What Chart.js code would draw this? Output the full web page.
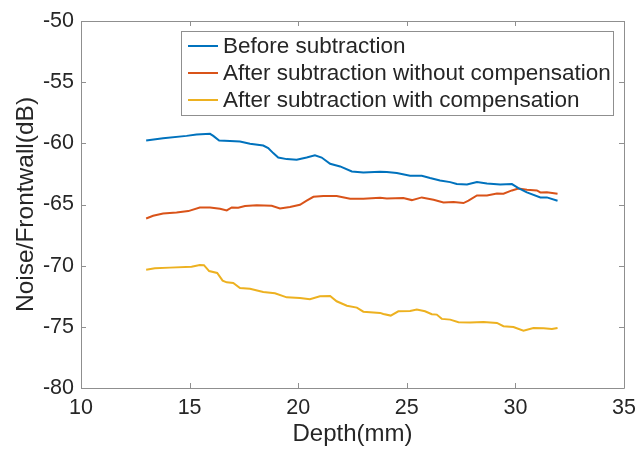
<!DOCTYPE html>
<html>
<head>
<meta charset="utf-8">
<script src="https://cdn.jsdelivr.net/npm/chart.js@4.4.1/dist/chart.umd.min.js"></script>
<style>
  html, body { margin: 0; padding: 0; background: #fff; }
</style>
</head>
<body>
<canvas id="noiseChart" width="638" height="450"></canvas>
<script>
// Series (depth in mm, level in dB)
const seriesLabels = ['Before subtraction', 'After subtraction without compensation', 'After subtraction with compensation'];
const seriesColors = ['#0072BD', '#D95319', '#EDB120'];

const beforeDepth = [13.0, 13.78, 14.86, 15.32, 15.94, 16.09, 16.36, 16.86, 17.32, 17.78, 18.39, 18.62, 18.85, 19.08, 19.47, 19.93, 20.39, 20.77, 21.08, 21.47, 21.93, 22.47, 23.0, 23.77, 24.08, 24.54, 25.15, 25.69, 26.07, 26.53, 27.0, 27.3, 27.77, 28.23, 28.69, 29.3, 29.84, 30.14, 30.53, 31.15, 31.45, 31.94];
const beforeLevel = [-59.77, -59.58, -59.39, -59.28, -59.22, -59.39, -59.77, -59.80, -59.85, -60.04, -60.18, -60.39, -60.8, -61.16, -61.29, -61.35, -61.16, -60.97, -61.16, -61.67, -61.89, -62.3, -62.38, -62.33, -62.35, -62.43, -62.65, -62.65, -62.84, -63.04, -63.17, -63.33, -63.36, -63.17, -63.28, -63.36, -63.33, -63.66, -64.01, -64.42, -64.42, -64.69];

const noCompDepth = [13.0, 13.32, 13.78, 14.4, 14.94, 15.47, 15.94, 16.4, 16.71, 16.94, 17.24, 17.55, 18.09, 18.78, 19.16, 19.62, 20.08, 20.39, 20.7, 21.16, 21.77, 22.39, 23.0, 23.77, 24.08, 24.84, 25.23, 25.69, 26.23, 26.69, 27.15, 27.61, 27.84, 28.23, 28.69, 29.15, 29.45, 29.84, 30.14, 30.53, 30.99, 31.15, 31.45, 31.94];
const noCompLevel = [-66.14, -65.92, -65.73, -65.65, -65.54, -65.24, -65.24, -65.35, -65.48, -65.24, -65.27, -65.13, -65.07, -65.1, -65.32, -65.21, -65.02, -64.69, -64.37, -64.31, -64.31, -64.53, -64.53, -64.45, -64.5, -64.47, -64.64, -64.42, -64.61, -64.83, -64.8, -64.88, -64.69, -64.26, -64.26, -64.1, -64.12, -63.85, -63.69, -63.8, -63.85, -64.01, -64.0, -64.12];

const compDepth = [13.0, 13.4, 14.09, 15.09, 15.47, 15.66, 15.9, 16.27, 16.52, 16.71, 17.01, 17.32, 17.78, 18.39, 18.93, 19.47, 20.08, 20.54, 21.0, 21.47, 21.77, 22.24, 22.7, 23.0, 23.77, 23.92, 24.26, 24.61, 25.15, 25.46, 25.84, 26.15, 26.38, 26.61, 27.0, 27.38, 27.92, 28.53, 29.15, 29.45, 29.91, 30.37, 30.83, 31.3, 31.68, 31.94];
const compLevel = [-70.33, -70.22, -70.16, -70.08, -69.94, -69.96, -70.44, -70.6, -71.22, -71.36, -71.41, -71.82, -71.88, -72.15, -72.26, -72.59, -72.64, -72.75, -72.5, -72.48, -72.91, -73.27, -73.43, -73.76, -73.86, -73.95, -74.08, -73.73, -73.7, -73.59, -73.73, -73.97, -74.0, -74.35, -74.41, -74.62, -74.65, -74.6, -74.68, -74.95, -75.01, -75.31, -75.09, -75.12, -75.17, -75.09];

const xTicks = [10, 15, 20, 25, 30, 35];
const yTicks = [-80, -75, -70, -65, -60, -55, -50];

const FONT = '"Liberation Sans", Arial, Helvetica, sans-serif';
const TEXT_COLOR = '#262626';
const AXIS_COLOR = '#8f8f8f';

function toPoints(xs, ys) {
    return xs.map((x, i) => ({ x: x, y: ys[i] }));
}

// Box around the axes plus inward tick marks on all four sides
const axesBoxPlugin = {
    id: 'axesBox',
    afterDraw(chart) {
        const { ctx, chartArea: a, scales } = chart;
        const len = 5;
        ctx.save();
        ctx.strokeStyle = AXIS_COLOR;
        ctx.lineWidth = 1;
        ctx.beginPath();
        ctx.rect(Math.round(a.left) + 0.5, Math.round(a.top) + 0.5, Math.round(a.right - a.left), Math.round(a.bottom - a.top));
        xTicks.forEach(v => {
            const px = Math.round(scales.x.getPixelForValue(v)) + 0.5;
            ctx.moveTo(px, a.bottom);
            ctx.lineTo(px, a.bottom - len);
            ctx.moveTo(px, a.top);
            ctx.lineTo(px, a.top + len);
        });
        yTicks.forEach(v => {
            const py = Math.round(scales.y.getPixelForValue(v)) + 0.5;
            ctx.moveTo(a.left, py);
            ctx.lineTo(a.left + len, py);
            ctx.moveTo(a.right, py);
            ctx.lineTo(a.right - len, py);
        });
        ctx.stroke();
        ctx.restore();
    }
};

// MATLAB-style legend box inside the axes, top right
const boxLegendPlugin = {
    id: 'boxLegend',
    afterDraw(chart) {
        const ctx = chart.ctx;
        const box = { left: 181, top: 31, right: 613, bottom: 115 };
        const rowY = [46, 73, 100];
        ctx.save();
        ctx.fillStyle = '#ffffff';
        ctx.fillRect(box.left, box.top, box.right - box.left, box.bottom - box.top);
        ctx.strokeStyle = AXIS_COLOR;
        ctx.lineWidth = 1;
        ctx.strokeRect(box.left + 0.5, box.top + 0.5, box.right - box.left, box.bottom - box.top);
        ctx.font = '22.5px ' + FONT;
        ctx.textBaseline = 'middle';
        ctx.textAlign = 'left';
        chart.data.datasets.forEach((ds, i) => {
            ctx.strokeStyle = ds.borderColor;
            ctx.lineWidth = 2;
            ctx.beginPath();
            ctx.moveTo(188, rowY[i]);
            ctx.lineTo(218, rowY[i]);
            ctx.stroke();
            ctx.fillStyle = TEXT_COLOR;
            ctx.fillText(ds.label, 223, rowY[i] + 1);
        });
        ctx.restore();
    }
};

const ctx = document.getElementById('noiseChart').getContext('2d');
new Chart(ctx, {
    type: 'line',
    data: {
        datasets: [
            { label: seriesLabels[0], data: toPoints(beforeDepth, beforeLevel), borderColor: seriesColors[0] },
            { label: seriesLabels[1], data: toPoints(noCompDepth, noCompLevel), borderColor: seriesColors[1] },
            { label: seriesLabels[2], data: toPoints(compDepth, compLevel), borderColor: seriesColors[2] }
        ]
    },
    options: {
        responsive: false,
        animation: false,
        layout: { padding: { top: 21, right: 14, left: 0, bottom: 0 } },
        elements: {
            line: { borderWidth: 2, tension: 0, fill: false },
            point: { radius: 0 }
        },
        plugins: {
            legend: { display: false },
            tooltip: { enabled: false }
        },
        scales: {
            x: {
                type: 'linear',
                min: 10,
                max: 35,
                afterFit: s => { s.height = 62; s.paddingLeft = 0; s.paddingRight = 0; },
                afterBuildTicks: s => { s.ticks = xTicks.map(v => ({ value: v })); },
                grid: { display: false, drawTicks: false },
                border: { display: false },
                ticks: { color: TEXT_COLOR, font: { family: FONT, size: 21.5 }, padding: 7, maxRotation: 0 },
                title: { display: true, text: 'Depth(mm)', color: TEXT_COLOR, font: { family: FONT, size: 24 }, padding: { top: 0, bottom: 1 } }
            },
            y: {
                type: 'linear',
                min: -80,
                max: -50,
                afterFit: s => { s.width = 81; s.paddingTop = 0; s.paddingBottom = 0; },
                afterBuildTicks: s => { s.ticks = yTicks.map(v => ({ value: v })); },
                grid: { display: false, drawTicks: false },
                border: { display: false },
                ticks: { color: TEXT_COLOR, font: { family: FONT, size: 21.5 }, padding: 7 },
                title: { display: true, text: 'Noise/Frontwall(dB)', color: TEXT_COLOR, font: { family: FONT, size: 24.5 }, padding: { top: 12, bottom: 0 } }
            }
        }
    },
    plugins: [axesBoxPlugin, boxLegendPlugin]
});
</script>
</body>
</html>
